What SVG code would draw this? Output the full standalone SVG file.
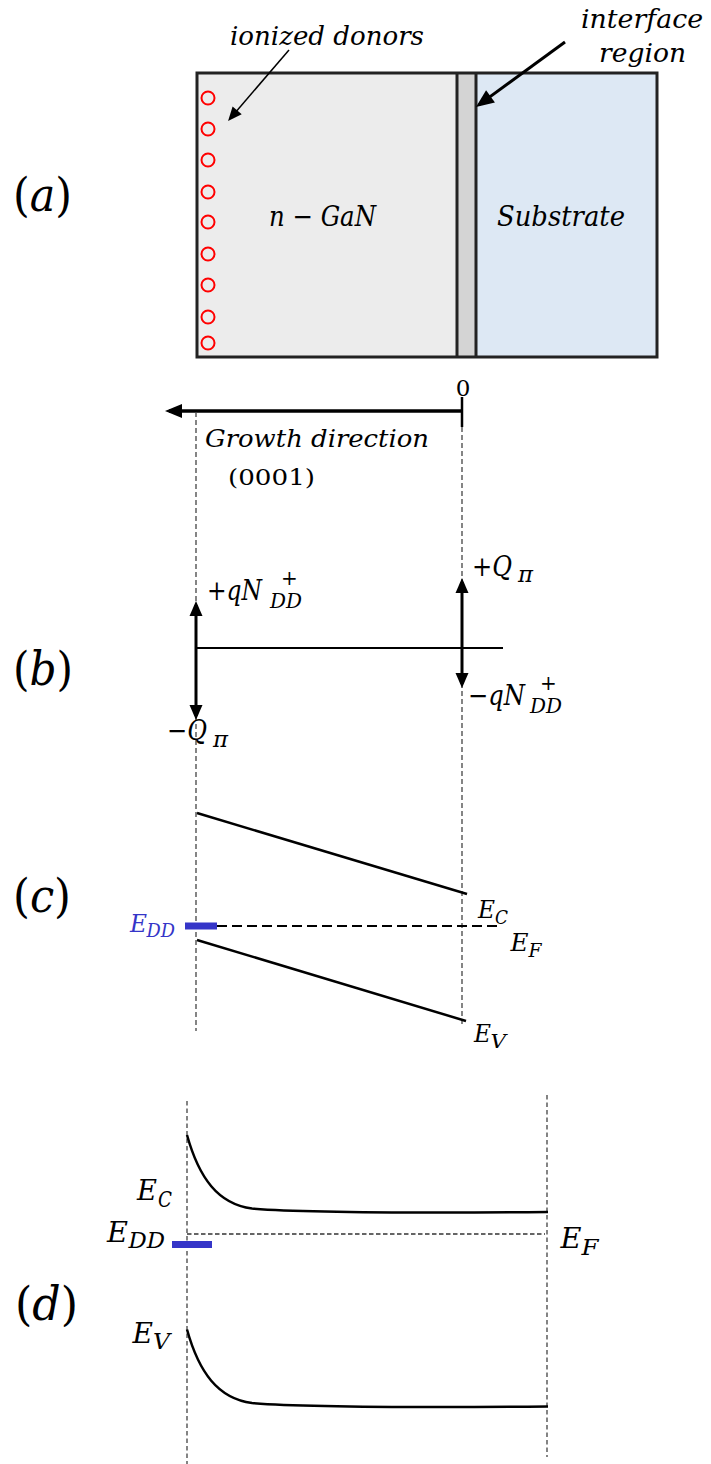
<svg xmlns="http://www.w3.org/2000/svg" width="711" height="1464" viewBox="0 0 711 1464">
<style>
.m{font-family:"DejaVu Serif","Liberation Serif",serif;font-style:italic;fill:#000}
.u{font-family:"DejaVu Serif","Liberation Serif",serif;font-style:normal;fill:#000}
.it{font-style:italic}
.lbl{font-size:46px}
.t26{font-size:26px}
.t23{font-size:23px}
.t25{font-size:25px}
.t28{font-size:28px}
.s19{font-size:19px}
.s20{font-size:20px}
.s22{font-size:22px}
.blue{fill:#3535c8}
.dash{stroke:#444;stroke-width:1.3;stroke-dasharray:5 3;fill:none}
.dashd{stroke:#333;stroke-width:1.2;stroke-dasharray:4.5 3;fill:none}
.thick{stroke:#000;stroke-width:3;fill:none}
.band{stroke:#000;stroke-width:2.5;fill:none}
.donor{fill:none;stroke:#ff0000;stroke-width:2}
</style>
<defs>
<marker id="hThin" markerUnits="userSpaceOnUse" markerWidth="20" markerHeight="20" refX="11" refY="6" orient="auto" overflow="visible"><path d="M0,0 L14,6 L0,12 z" fill="#000"/></marker>
<marker id="hThick" markerUnits="userSpaceOnUse" markerWidth="24" markerHeight="24" refX="14" refY="7.5" orient="auto" overflow="visible"><path d="M0,0 L18,7.5 L0,15 z" fill="#000"/></marker>
<marker id="hAxis" markerUnits="userSpaceOnUse" markerWidth="24" markerHeight="24" refX="13" refY="7" orient="auto" overflow="visible"><path d="M0,0 L17,7 L0,14 z" fill="#000"/></marker>
<marker id="hQ" markerUnits="userSpaceOnUse" markerWidth="24" markerHeight="24" refX="11" refY="6.5" orient="auto" overflow="visible"><path d="M0,0 L15,6.5 L0,13 z" fill="#000"/></marker>
</defs>

<g id="panel-labels">
<text class="u lbl" x="13" y="211" textLength="59" lengthAdjust="spacingAndGlyphs">(<tspan class="it">a</tspan>)</text>
<text class="u lbl" x="13" y="685" textLength="60" lengthAdjust="spacingAndGlyphs">(<tspan class="it">b</tspan>)</text>
<text class="u lbl" x="13" y="912" textLength="58" lengthAdjust="spacingAndGlyphs">(<tspan class="it">c</tspan>)</text>
<text class="u lbl" x="15" y="1320" textLength="63" lengthAdjust="spacingAndGlyphs">(<tspan class="it">d</tspan>)</text>
</g>

<g id="ngan">
<rect x="197" y="73" width="260" height="284" fill="#ececec"/>
<text class="m t28" x="269" y="226" textLength="107" lengthAdjust="spacingAndGlyphs">n − GaN</text>
</g>
<g id="interface">
<rect x="457" y="73" width="19" height="284" fill="#d4d4d4"/>
</g>
<g id="substrate">
<rect x="476" y="73" width="181" height="284" fill="#dde8f4"/>
<text class="m t28" x="497" y="226" textLength="128" lengthAdjust="spacingAndGlyphs">Substrate</text>
</g>
<g id="box-outline">
<rect x="197" y="73" width="460" height="284" fill="none" stroke="#222" stroke-width="3"/>
<line x1="457" y1="73" x2="457" y2="357" stroke="#222" stroke-width="3"/>
<line x1="476" y1="73" x2="476" y2="357" stroke="#222" stroke-width="3"/>
</g>
<g id="donors">
<circle class="donor" cx="208" cy="98" r="6.5"/>
<circle class="donor" cx="208" cy="129" r="6.5"/>
<circle class="donor" cx="208" cy="160" r="6.5"/>
<circle class="donor" cx="208" cy="192" r="6.5"/>
<circle class="donor" cx="208" cy="222" r="6.5"/>
<circle class="donor" cx="208" cy="254" r="6.5"/>
<circle class="donor" cx="208" cy="285" r="6.5"/>
<circle class="donor" cx="208" cy="317" r="6.5"/>
<circle class="donor" cx="208" cy="343" r="6.5"/>
</g>
<g id="callouts">
<text class="m t26" x="230" y="45" textLength="194" lengthAdjust="spacingAndGlyphs">ionized donors</text>
<text class="m t26" x="581" y="28" textLength="122" lengthAdjust="spacingAndGlyphs">interface</text>
<text class="m t26" x="599" y="62" textLength="87" lengthAdjust="spacingAndGlyphs">region</text>
</g>

<g id="connectors">
<line x1="289" y1="50" x2="230" y2="118.7" stroke="#000" stroke-width="1.5" marker-end="url(#hThin)"/>
<line x1="565" y1="42" x2="479.2" y2="104.6" stroke="#000" stroke-width="3" marker-end="url(#hThick)"/>
<line x1="462" y1="411" x2="169" y2="411" stroke="#000" stroke-width="3.5" marker-end="url(#hAxis)"/>
<line x1="462" y1="397" x2="462" y2="427" stroke="#000" stroke-width="2.5"/>
<line class="dash" x1="196" y1="412" x2="196" y2="1031"/>
<line class="dash" x1="462" y1="427" x2="462" y2="1027"/>
<line x1="196" y1="648" x2="503" y2="648" stroke="#000" stroke-width="2"/>
<line x1="196" y1="648" x2="196" y2="605" class="thick" marker-end="url(#hQ)"/>
<line x1="196" y1="648" x2="196" y2="716" class="thick" marker-end="url(#hQ)"/>
<line x1="462" y1="648" x2="462" y2="582" class="thick" marker-end="url(#hQ)"/>
<line x1="462" y1="648" x2="462" y2="684" class="thick" marker-end="url(#hQ)"/>
</g>

<g id="axis-labels">
<text class="u t23" x="463" y="396" text-anchor="middle">0</text>
<text class="m t25" x="205" y="447" textLength="224" lengthAdjust="spacingAndGlyphs">Growth direction</text>
<text class="u t23" x="228" y="485" textLength="87" lengthAdjust="spacingAndGlyphs">(0001)</text>
</g>

<g id="charges">
<text class="m t28" x="207" y="600" textLength="55" lengthAdjust="spacingAndGlyphs">+qN</text>
<text class="u s20" x="281" y="585">+</text>
<text class="m s20" x="270" y="608" textLength="32" lengthAdjust="spacingAndGlyphs">DD</text>
<text class="m t28" x="472" y="576" textLength="40" lengthAdjust="spacingAndGlyphs">+Q</text>
<text class="m s22" x="518" y="582" textLength="15" lengthAdjust="spacingAndGlyphs">π</text>
<text class="m t28" x="468" y="705" textLength="57" lengthAdjust="spacingAndGlyphs">−qN</text>
<text class="u s20" x="540" y="690">+</text>
<text class="m s20" x="530" y="713" textLength="32" lengthAdjust="spacingAndGlyphs">DD</text>
<text class="m t28" x="167" y="740" textLength="40" lengthAdjust="spacingAndGlyphs">−Q</text>
<text class="m s22" x="213" y="747" textLength="15" lengthAdjust="spacingAndGlyphs">π</text>
</g>

<g id="bands-c">
<line class="band" x1="197" y1="813" x2="467" y2="894"/>
<line class="band" x1="197" y1="940" x2="466" y2="1021"/>
<line x1="217" y1="926" x2="497" y2="926" stroke="#000" stroke-width="2" stroke-dasharray="10 5"/>
<rect x="185" y="922.5" width="32" height="7" fill="#3535c8"/>
<text class="m t25 blue" x="130" y="931.5" textLength="17" lengthAdjust="spacingAndGlyphs">E</text>
<text class="m s19 blue" x="146.5" y="937" textLength="28.5" lengthAdjust="spacingAndGlyphs">DD</text>
<text class="m t25" x="478" y="918" textLength="17" lengthAdjust="spacingAndGlyphs">E</text>
<text class="m s19" x="495" y="924" textLength="13" lengthAdjust="spacingAndGlyphs">C</text>
<text class="m t25" x="510.5" y="950.5" textLength="18" lengthAdjust="spacingAndGlyphs">E</text>
<text class="m s19" x="528.5" y="957" textLength="13" lengthAdjust="spacingAndGlyphs">F</text>
<text class="m t25" x="474" y="1041.5" textLength="17" lengthAdjust="spacingAndGlyphs">E</text>
<text class="m s19" x="490.5" y="1048" textLength="15.5" lengthAdjust="spacingAndGlyphs">V</text>
</g>

<g id="bands-d">
<line class="dashd" x1="187" y1="1101" x2="187" y2="1464"/>
<line class="dashd" x1="547" y1="1095" x2="547" y2="1457"/>
<path class="band" d="M187,1135 C199,1178 218,1204 252,1208.5 C300,1212.5 420,1213 548,1212"/>
<path class="band" d="M187,1329.5 C199,1372.5 218,1398.5 252,1403 C300,1407 420,1407.5 548,1406.5"/>
<line x1="187" y1="1234" x2="545" y2="1234" stroke="#333" stroke-width="1.3" stroke-dasharray="4.5 2.5"/>
<rect x="172" y="1241" width="40" height="7" fill="#3535c8"/>
<text class="m t28" x="137" y="1200" textLength="20" lengthAdjust="spacingAndGlyphs">E</text>
<text class="m s22" x="158" y="1206.5" textLength="14" lengthAdjust="spacingAndGlyphs">C</text>
<text class="m t28" x="107" y="1241.5" textLength="21" lengthAdjust="spacingAndGlyphs">E</text>
<text class="m s22" x="128.5" y="1248" textLength="36.5" lengthAdjust="spacingAndGlyphs">DD</text>
<text class="m t28" x="560.5" y="1248" textLength="21" lengthAdjust="spacingAndGlyphs">E</text>
<text class="m s22" x="581.5" y="1255" textLength="17" lengthAdjust="spacingAndGlyphs">F</text>
<text class="m t28" x="132.5" y="1343" textLength="20.5" lengthAdjust="spacingAndGlyphs">E</text>
<text class="m s22" x="153" y="1349" textLength="17" lengthAdjust="spacingAndGlyphs">V</text>
</g>
</svg>
